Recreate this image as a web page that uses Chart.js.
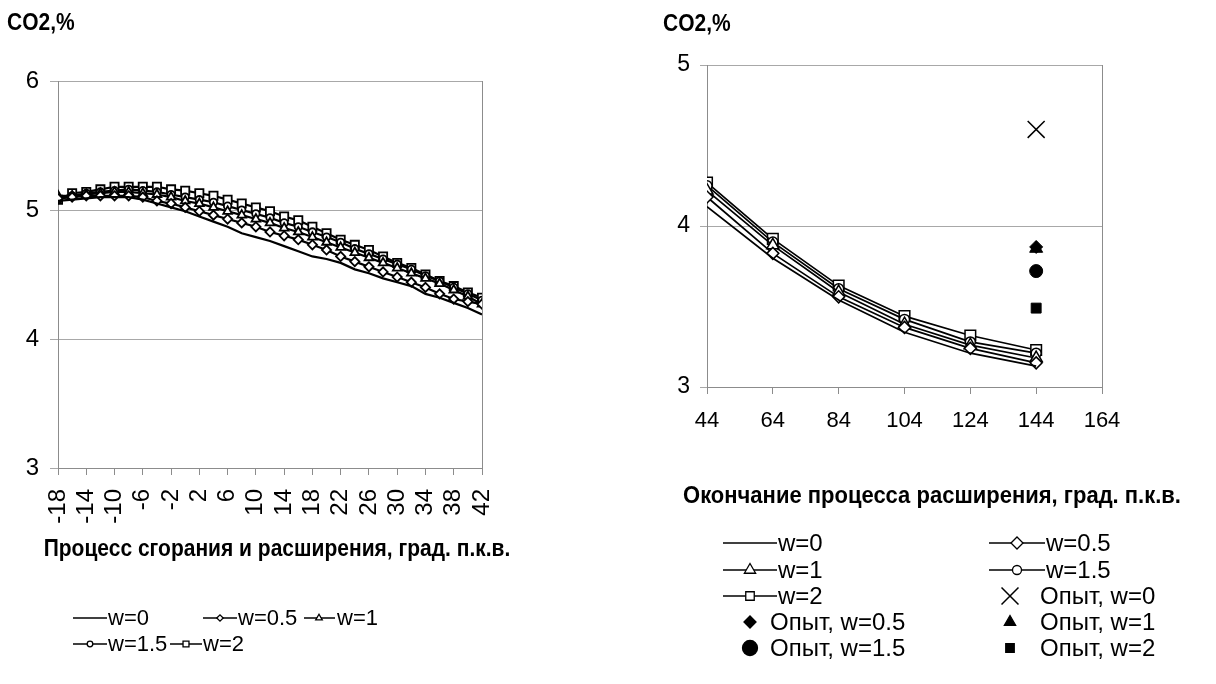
<!DOCTYPE html>
<html>
<head>
<meta charset="utf-8">
<script src="https://cdn.jsdelivr.net/npm/chart.js@4/dist/chart.umd.min.js"></script>
<style>
  body { margin: 0; background: #fff; }
  #wrap { position: relative; width: 1216px; height: 684px; }
  canvas { position: absolute; top: 0; }
</style>
</head>
<body>
<div id="wrap">
  <canvas id="leftChart" width="600" height="684" style="left:0"></canvas>
  <canvas id="rightChart" width="616" height="684" style="left:600px"></canvas>
</div>
<script>
"use strict";

// Left chart: combustion and expansion, CO2 vs crank angle
const anglesA = [-18, -16, -14, -12, -10, -8, -6, -4, -2, 0, 2, 4, 6, 8, 10, 12, 14, 16, 18, 20, 22, 24, 26, 28, 30, 32, 34, 36, 38, 40, 42];
const co2A_w0 = [5.07, 5.08, 5.09, 5.10, 5.10, 5.10, 5.08, 5.05, 5.02, 4.99, 4.95, 4.91, 4.87, 4.82, 4.79, 4.76, 4.72, 4.68, 4.64, 4.62, 4.59, 4.54, 4.51, 4.47, 4.44, 4.41, 4.35, 4.32, 4.28, 4.24, 4.19];
const co2A_w05 = [5.09, 5.10, 5.11, 5.11, 5.11, 5.11, 5.10, 5.07, 5.05, 5.02, 4.99, 4.96, 4.93, 4.90, 4.87, 4.83, 4.80, 4.77, 4.73, 4.69, 4.64, 4.60, 4.56, 4.52, 4.48, 4.44, 4.40, 4.35, 4.31, 4.29, 4.27];
const co2A_w1 = [5.11, 5.11, 5.12, 5.13, 5.14, 5.14, 5.13, 5.12, 5.10, 5.07, 5.05, 5.02, 4.99, 4.96, 4.93, 4.90, 4.86, 4.83, 4.79, 4.75, 4.71, 4.67, 4.63, 4.59, 4.55, 4.51, 4.47, 4.43, 4.38, 4.33, 4.27];
const co2A_w15 = [5.08, 5.11, 5.13, 5.14, 5.15, 5.16, 5.15, 5.14, 5.12, 5.10, 5.08, 5.06, 5.03, 5.00, 4.97, 4.94, 4.90, 4.87, 4.83, 4.79, 4.75, 4.70, 4.66, 4.62, 4.58, 4.54, 4.49, 4.45, 4.40, 4.35, 4.30];
const co2A_w2 = [5.08, 5.13, 5.14, 5.16, 5.18, 5.18, 5.18, 5.18, 5.16, 5.15, 5.13, 5.11, 5.08, 5.05, 5.02, 4.99, 4.95, 4.92, 4.87, 4.82, 4.77, 4.73, 4.69, 4.64, 4.59, 4.55, 4.50, 4.45, 4.41, 4.36, 4.32];

// Right chart: end of expansion, calculation + experiment
const anglesB = [44, 64, 84, 104, 124, 144];
const co2B_w0 = [4.12, 3.80, 3.54, 3.34, 3.21, 3.13];
const co2B_w05 = [4.18, 3.83, 3.56, 3.37, 3.24, 3.15];
const co2B_w1 = [4.22, 3.88, 3.59, 3.39, 3.26, 3.18];
const co2B_w15 = [4.25, 3.90, 3.61, 3.42, 3.28, 3.21];
const co2B_w2 = [4.27, 3.92, 3.63, 3.44, 3.32, 3.23];
const expAngle = [144];
const expNames = ["Опыт, w=0", "Опыт, w=0.5", "Опыт, w=1", "Опыт, w=1.5", "Опыт, w=2"];
const expValues = [4.60, 3.87, 3.86, 3.72, 3.49];

const seriesNames = ["w=0", "w=0.5", "w=1", "w=1.5", "w=2"];

const FONT = "'Liberation Sans', Arial, sans-serif";
const GRID = "#a8a8a8";
const AXIS = "#8c8c8c";

const toPoints = (xs, ys) => ys.map((y, i) => ({ x: xs[i], y: y }));

// frame, free texts and Excel-like legend
const sketchDecor = {
  id: "sketchDecor",
  afterDraw(chart, args, opts) {
    const ctx = chart.ctx;
    const a = chart.chartArea;
    ctx.save();
    ctx.strokeStyle = AXIS;
    ctx.lineWidth = 1;
    ctx.beginPath();
    const r = Math.round(a.right) + 0.5;
    ctx.moveTo(r, Math.round(a.top));
    ctx.lineTo(r, Math.round(a.bottom) + 1);
    ctx.stroke();

    ctx.fillStyle = "#000";
    ctx.textBaseline = "middle";
    (opts.texts || []).forEach((t) => {
      ctx.font = t.font;
      ctx.textAlign = t.align || "left";
      ctx.save();
      ctx.translate(t.x, t.y);
      ctx.scale(1, 1.1);
      ctx.fillText(t.text, 0, 0);
      ctx.restore();
    });

    ctx.font = opts.legendFont;
    ctx.textAlign = "left";
    (opts.legend || []).forEach((it) => {
      const ds = chart.data.datasets[it.ds];
      if (it.line) {
        ctx.strokeStyle = "#000";
        ctx.lineWidth = 1.5;
        ctx.beginPath();
        ctx.moveTo(it.line[0], it.y);
        ctx.lineTo(it.line[1], it.y);
        ctx.stroke();
      }
      if (it.r) {
        ctx.fillStyle = ds.pointBackgroundColor || "#000";
        ctx.strokeStyle = ds.pointBorderColor || "#000";
        ctx.lineWidth = it.bw || 1.3;
        Chart.helpers.drawPoint(ctx, {
          pointStyle: ds.pointStyle, rotation: 0, radius: it.r, borderWidth: it.bw || 1.3
        }, it.mx, it.y);
      }
      ctx.fillStyle = "#000";
      ctx.fillText(ds.label, it.tx, it.y + 1);
    });
    ctx.restore();
  }
};

function lineSet(label, xs, ys, style, radius, width, pbw) {
  return {
    label: label,
    data: toPoints(xs, ys),
    borderColor: "#000",
    borderWidth: width,
    pointStyle: style || "circle",
    pointRadius: style ? radius : 0,
    pointBackgroundColor: "#fff",
    pointBorderColor: "#000",
    pointBorderWidth: pbw,
    tension: 0
  };
}

// ---------- left chart ----------
new Chart(document.getElementById("leftChart").getContext("2d"), {
  type: "line",
  data: {
    datasets: [
      lineSet(seriesNames[0], anglesA, co2A_w0, null, 0, 2.2, 1.8),
      lineSet(seriesNames[1], anglesA, co2A_w05, "rectRot", 4.6, 2.2, 1.8),
      lineSet(seriesNames[2], anglesA, co2A_w1, "triangle", 5, 2.2, 1.8),
      lineSet(seriesNames[3], anglesA, co2A_w15, "circle", 3.7, 2.2, 1.8),
      lineSet(seriesNames[4], anglesA, co2A_w2, "rect", 5.8, 2.2, 1.8)
    ]
  },
  options: {
    responsive: false,
    animation: false,
    events: [],
    layout: { padding: { top: 81, right: 118, left: 0, bottom: 0 } },
    scales: {
      x: {
        type: "linear",
        min: -18,
        max: 42,
        afterFit: (s) => { s.height = 216; },
        grid: { drawOnChartArea: false, color: AXIS, tickLength: 7 },
        border: { color: AXIS },
        ticks: {
          stepSize: 4, maxTicksLimit: 100, autoSkip: false,
          minRotation: 90, maxRotation: 90, padding: 14,
          color: "#000", font: { family: FONT, size: 24 }
        }
      },
      y: {
        min: 3,
        max: 6,
        afterFit: (s) => { s.width = 58; },
        grid: { color: GRID, tickLength: 8 },
        border: { color: AXIS },
        ticks: { stepSize: 1, padding: 11, color: "#000", font: { family: FONT, size: 24 } }
      }
    },
    plugins: {
      legend: { display: false },
      tooltip: { enabled: false },
      sketchDecor: {
        texts: [
          { text: "CO2,%", x: 7, y: 24, font: "bold 21px " + FONT },
          { text: "Процесс сгорания и расширения, град. п.к.в.", x: 277, y: 550, align: "center", font: "bold 21px " + FONT }
        ],
        legendFont: "22px " + FONT,
        legend: [
          { ds: 0, y: 618, line: [73, 107], tx: 108 },
          { ds: 1, y: 618, line: [203, 237], mx: 220, r: 3.2, tx: 238 },
          { ds: 2, y: 618, line: [304, 335], mx: 319, r: 3.8, tx: 337 },
          { ds: 3, y: 644, line: [73, 107], mx: 90, r: 2.8, tx: 108 },
          { ds: 4, y: 644, line: [170, 202], mx: 186, r: 4.2, tx: 203 }
        ]
      }
    }
  },
  plugins: [sketchDecor]
});

// ---------- right chart ----------
const expStyles = ["crossRot", "rectRot", "triangle", "circle", "rect"];
const expRadius = [12, 6.5, 7.5, 6.5, 7];
const expSets = expNames.map((name, i) => ({
  label: name,
  data: toPoints(expAngle, [expValues[i]]),
  showLine: false,
  pointStyle: expStyles[i],
  pointRadius: expRadius[i],
  pointBackgroundColor: "#000",
  pointBorderColor: "#000",
  pointBorderWidth: i === 0 ? 1.5 : 1
}));

new Chart(document.getElementById("rightChart").getContext("2d"), {
  type: "line",
  data: {
    datasets: [
      lineSet(seriesNames[0], anglesB, co2B_w0, null, 0, 1.7, 1.5),
      lineSet(seriesNames[1], anglesB, co2B_w05, "rectRot", 6, 1.7, 1.5),
      lineSet(seriesNames[2], anglesB, co2B_w1, "triangle", 7, 1.7, 1.5),
      lineSet(seriesNames[3], anglesB, co2B_w15, "circle", 5, 1.7, 1.5),
      lineSet(seriesNames[4], anglesB, co2B_w2, "rect", 7.5, 1.7, 1.5)
    ].concat(expSets)
  },
  options: {
    responsive: false,
    animation: false,
    events: [],
    layout: { padding: { top: 65, right: 114, left: 0, bottom: 0 } },
    scales: {
      x: {
        type: "linear",
        min: 44,
        max: 164,
        afterFit: (s) => { s.height = 297; },
        grid: { drawOnChartArea: false, color: AXIS, tickLength: 7 },
        border: { color: AXIS },
        ticks: {
          stepSize: 20, autoSkip: false, maxRotation: 0, padding: 14,
          color: "#000", font: { family: FONT, size: 22 }
        }
      },
      y: {
        min: 3,
        max: 5,
        afterFit: (s) => { s.width = 107; },
        grid: { color: GRID, tickLength: 7 },
        border: { color: AXIS },
        ticks: { stepSize: 1, padding: 10, color: "#000", font: { family: FONT, size: 23 } }
      }
    },
    plugins: {
      legend: { display: false },
      tooltip: { enabled: false },
      sketchDecor: {
        texts: [
          { text: "CO2,%", x: 63, y: 25, font: "bold 21px " + FONT },
          { text: "Окончание процесса расширения, град. п.к.в.", x: 332, y: 496, align: "center", font: "bold 22px " + FONT }
        ],
        legendFont: "24px " + FONT,
        legend: [
          { ds: 0, y: 543, line: [123, 177], tx: 178 },
          { ds: 1, y: 543, line: [389, 445], mx: 417, r: 6, tx: 446 },
          { ds: 2, y: 570, line: [123, 177], mx: 150, r: 6.5, tx: 178 },
          { ds: 3, y: 570, line: [389, 445], mx: 417, r: 4.5, tx: 446 },
          { ds: 4, y: 596, line: [123, 177], mx: 150, r: 6, tx: 178 },
          { ds: 5, y: 596, mx: 410, r: 12, bw: 1.5, tx: 440 },
          { ds: 6, y: 622, mx: 150, r: 6, tx: 170 },
          { ds: 7, y: 622, mx: 410, r: 6.5, tx: 440 },
          { ds: 8, y: 648, mx: 150, r: 7.5, tx: 170 },
          { ds: 9, y: 648, mx: 410, r: 6, tx: 440 }
        ]
      }
    }
  },
  plugins: [sketchDecor]
});
</script>
</body>
</html>
